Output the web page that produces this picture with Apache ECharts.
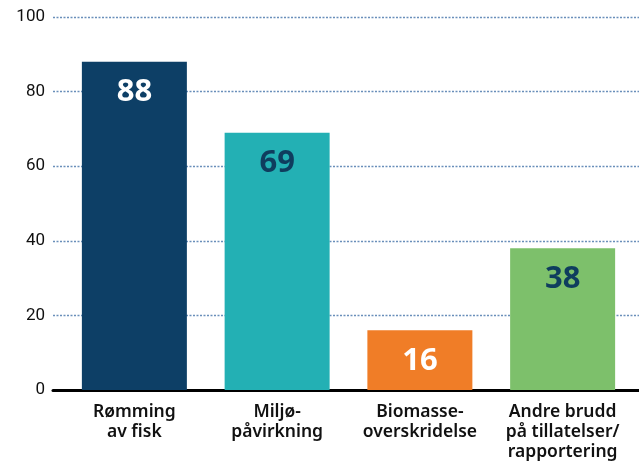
<!DOCTYPE html>
<html>
<head>
<meta charset="utf-8">
<script src="https://cdn.jsdelivr.net/npm/echarts@6/dist/echarts.min.js"></script>
<style>
  html, body { margin: 0; padding: 0; background: #fff; }
  #chart { width: 639px; height: 462px; }
</style>
</head>
<body>
<div id="chart"></div>
<script>
// Categories and values
const categories = ['Rømming\nav fisk', 'Miljø-\npåvirkning', 'Biomasse-\noverskridelse', 'Andre brudd\npå tillatelser/\nrapportering'];
const values = [88, 69, 16, 38];
const barColors = ['#0d3f66', '#23b0b4', '#f07d27', '#7dc06b'];
const labelColors = ['#ffffff', '#0f3d5e', '#ffffff', '#0f3d5e'];
const yTicks = [0, 20, 40, 60, 80, 100];

const chart = echarts.init(document.getElementById('chart'));

chart.setOption({
  animation: false,
  grid: [
    // background grid: y-axis labels, dotted gridlines and the baseline
    { left: 53, right: 0, top: 17, bottom: 72 },
    // bars
    { left: 63, right: 5, top: 17, bottom: 72 }
  ],
  xAxis: [
    {
      gridIndex: 0, type: 'value', min: 0, max: 1,
      axisLine: { show: true, lineStyle: { color: '#000', width: 3 } },
      axisTick: { show: false }, axisLabel: { show: false }, splitLine: { show: false }
    },
    {
      gridIndex: 1, type: 'category', data: categories,
      axisLine: { show: false }, axisTick: { show: false },
      axisLabel: {
        interval: 0, margin: 12,
        color: '#111', fontFamily: 'Noto Sans', fontWeight: 600, fontSize: 17.5, lineHeight: 20
      }
    }
  ],
  yAxis: [
    {
      gridIndex: 0, type: 'value', min: 0, max: 100, interval: 20,
      axisLine: { show: false }, axisTick: { show: false },
      axisLabel: {
        margin: 8, color: '#111', fontFamily: 'Roboto', fontSize: 17,
        formatter: v => yTicks.includes(v) ? String(v) : ''
      },
      splitLine: { show: true, lineStyle: { color: '#6a8fba', type: [2, 1.5], width: 1.3 } }
    },
    {
      gridIndex: 1, type: 'value', min: 0, max: 100, interval: 20, show: false
    }
  ],
  series: [{
    type: 'bar',
    xAxisIndex: 1, yAxisIndex: 1,
    barWidth: 105,
    z: 5,
    data: values.map((v, i) => ({
      value: v,
      itemStyle: { color: barColors[i] },
      label: { color: labelColors[i] }
    })),
    label: {
      show: true, position: 'insideTop', distance: 15,
      fontFamily: 'Open Sans', fontWeight: 700, fontSize: 31
    }
  }]
});
</script>
</body>
</html>
